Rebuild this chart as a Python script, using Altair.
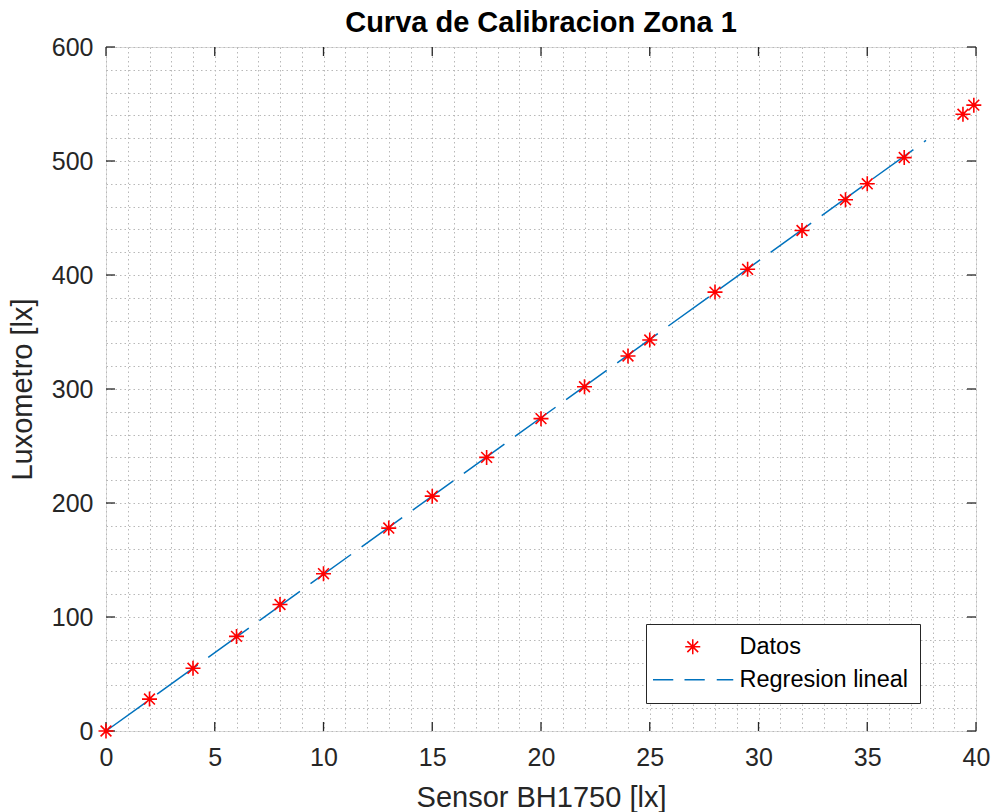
import altair as alt
import pandas as pd

# ---- data ----
sensor = [0, 2, 4, 6, 8, 10, 13, 15, 17.5, 20, 22, 24, 25, 28, 29.5, 32, 34, 35, 36.7, 39.4, 39.9]
luxometro = [0, 28, 55, 83, 111, 138, 178, 206, 240, 274, 302, 329, 343, 385, 405, 439, 466, 480, 503, 541, 549]
reg_x = [0, 37.7]
reg_y = [0, 518]
series_names = ["Datos", "Regresion lineal"]
x_major = [0, 5, 10, 15, 20, 25, 30, 35, 40]
y_major = [0, 100, 200, 300, 400, 500, 600]
x_minor = list(range(0, 41))
y_minor = list(range(0, 601, 20))

FONT = "Liberation Sans"
W, H = 870, 684
TICK = 9

pts = pd.DataFrame({"sensor": sensor, "lux": luxometro, "serie": ["Datos"] * len(sensor)})
reg = pd.DataFrame({"sensor": reg_x, "lux": reg_y})
xt = pd.DataFrame({"v": x_major})
yt = pd.DataFrame({"v": y_major})

# asterisk with the same horizontal extent (via move-to points) as the dashed legend symbol
asterisk = "M-5.3,0M5.4,0M-1,0L1,0M0,-1L0,1M-0.72,-0.72L0.72,0.72M-0.72,0.72L0.72,-0.72"
dashsym = "M-5.3,0L-2.6,0M-1.1,0L1.6,0M3.2,0L5.4,0"

xscale = alt.Scale(domain=[0, 40], nice=False, zero=False)
yscale = alt.Scale(domain=[0, 600], nice=False, zero=False)

grid_kw = dict(grid=True, gridColor="#b8b8b8", gridDash=[1.5, 3], gridWidth=1, gridOpacity=1,
               ticks=False, domain=False, labelOverlap=False, labelFlush=False, labelBound=False,
               labelFontSize=25, labelColor="#262626", labelFont=FONT, titleFontSize=29,
               titleFontWeight="normal", titleColor="#262626", titleFont=FONT)

xaxis = alt.Axis(values=x_minor, labelExpr="datum.value % 5 === 0 ? datum.label : ''",
                 labelPadding=14, title="Sensor BH1750 [lx]", titlePadding=13, **grid_kw)
yaxis = alt.Axis(values=y_minor, labelExpr="datum.value % 100 === 0 ? datum.label : ''",
                 labelPadding=13, title="Luxometro [lx]", titlePadding=14, **grid_kw)

leg = alt.Legend(orient="none", legendX=540, legendY=577, title=None, padding=11,
                 fillColor="white", strokeColor="#262626",
                 symbolOffset=24, labelOffset=35, labelFontSize=23.5, labelFont=FONT,
                 labelColor="black", labelLimit=0, rowPadding=8, symbolSize=225,
                 symbolStrokeWidth=1.5, symbolFillColor="transparent")

X = alt.X("sensor:Q", scale=xscale, axis=xaxis)
Y = alt.Y("lux:Q", scale=yscale, axis=yaxis)

line = alt.Chart(reg).mark_line(color="#0072BD", strokeWidth=1.5, strokeDash=[50, 13]).encode(
    x=X, y=Y)

points = alt.Chart(pts).mark_point(filled=False, strokeWidth=1.6, size=225, opacity=1).encode(
    x=X, y=Y,
    color=alt.Color("serie:N", scale=alt.Scale(domain=series_names, range=["#FF0000", "#0072BD"]), legend=leg),
    shape=alt.Shape("serie:N", scale=alt.Scale(domain=series_names, range=[asterisk, dashsym]), legend=leg),
)

tick_col = "#262626"
XT = alt.X("v:Q", scale=xscale, axis=xaxis)
YT = alt.Y("v:Q", scale=yscale, axis=yaxis)
xt_bottom = alt.Chart(xt).mark_rule(color=tick_col, strokeWidth=1.3).encode(
    x=XT, y=alt.value(H), y2=alt.value(H - TICK))
xt_top = alt.Chart(xt).mark_rule(color=tick_col, strokeWidth=1.3).encode(
    x=XT, y=alt.value(0), y2=alt.value(TICK))
yt_left = alt.Chart(yt).mark_rule(color=tick_col, strokeWidth=1.3).encode(
    y=YT, x=alt.value(0), x2=alt.value(TICK))
yt_right = alt.Chart(yt).mark_rule(color=tick_col, strokeWidth=1.3).encode(
    y=YT, x=alt.value(W), x2=alt.value(W - TICK))

chart = alt.layer(line, xt_bottom, xt_top, yt_left, yt_right, points).properties(
    width=W, height=H,
    title=alt.TitleParams("Curva de Calibracion Zona 1", fontSize=29, fontWeight="bold",
                          font=FONT, color="black", anchor="middle", frame="group",
                          offset=-3),
    autosize=alt.AutoSizeParams(type="none"),
    padding={"left": 106, "top": 47, "right": 15, "bottom": 81},
).configure_view(
    stroke="#262626", strokeWidth=1.3
).configure_legend(
    strokeWidth=1, cornerRadius=0
).configure(background="white")

chart.save("out.html", embed_options={"renderer": "svg", "actions": False})
